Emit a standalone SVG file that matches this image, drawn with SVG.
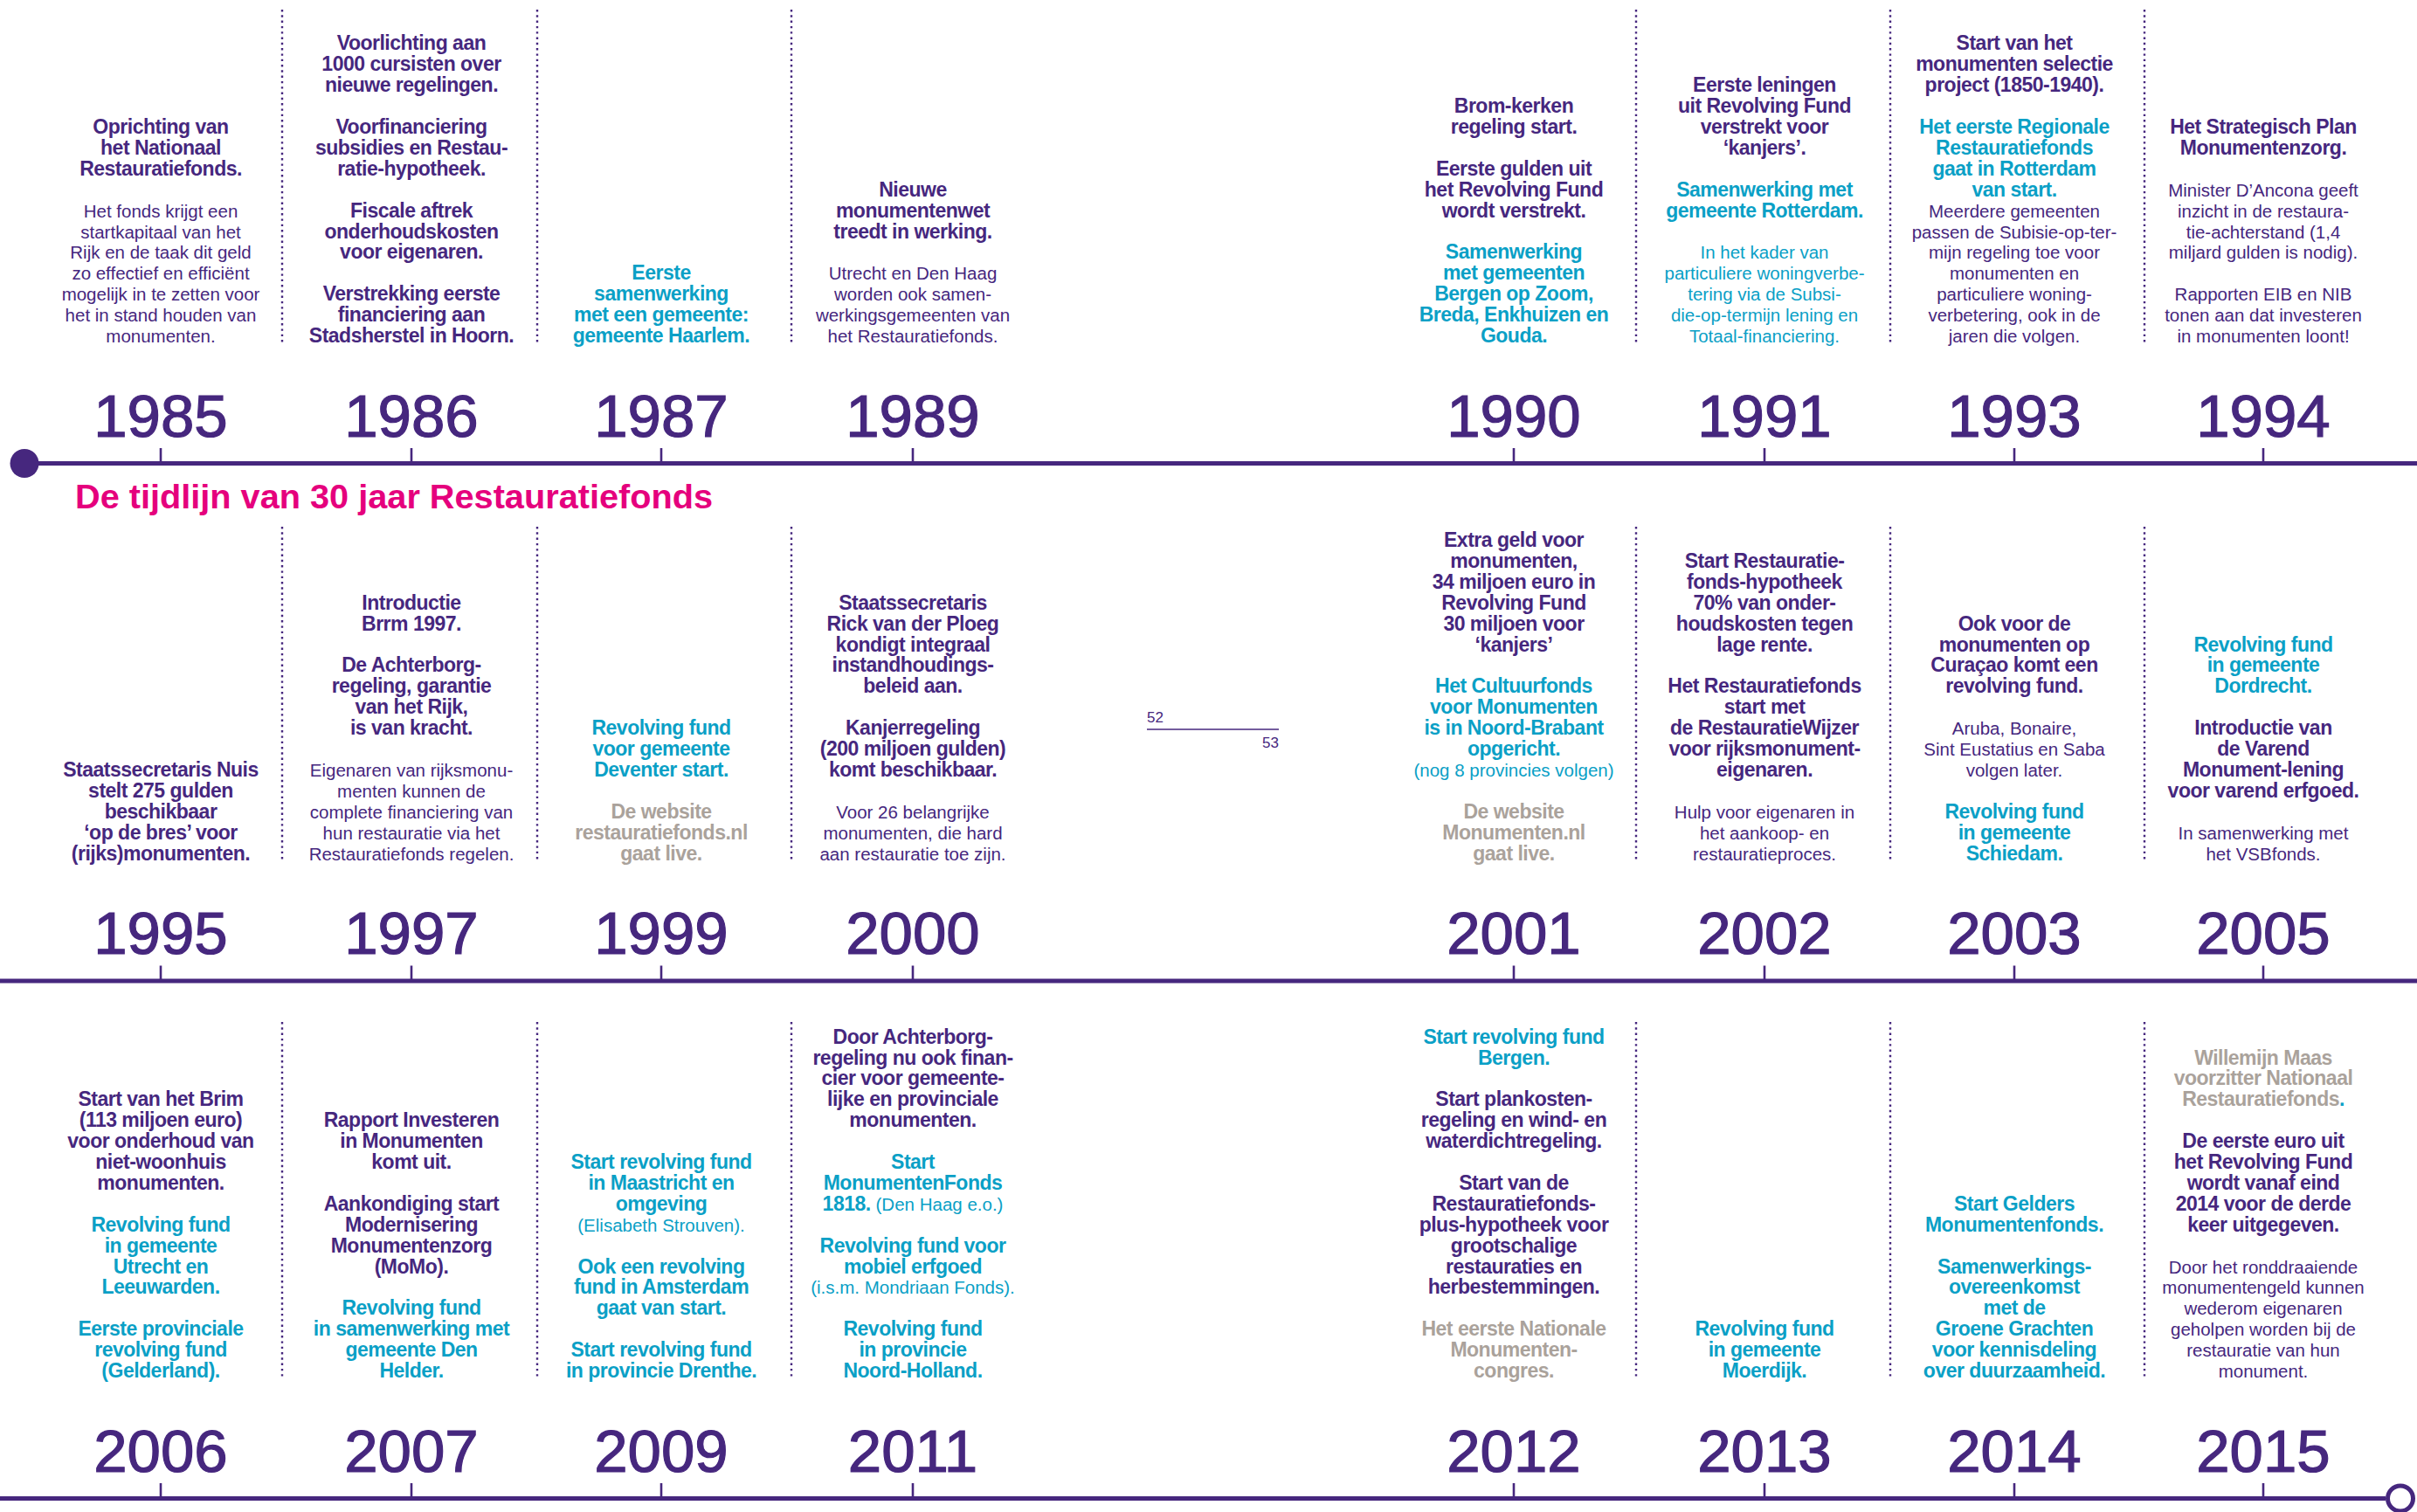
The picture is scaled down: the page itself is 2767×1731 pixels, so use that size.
<svg xmlns="http://www.w3.org/2000/svg" width="2767" height="1731" viewBox="0 0 2767 1731">
<style>
text{text-anchor:middle;font-family:"Liberation Sans",Arial,sans-serif}
.b{font-weight:bold;font-size:23px;letter-spacing:-0.5px;fill:#46277e}
.r{font-size:20.5px;fill:#46277e}
.c{font-weight:bold;font-size:23px;letter-spacing:-0.5px;fill:#0aa0c6}
.cr{font-weight:normal;font-size:20.5px;letter-spacing:0;fill:#0aa0c6}
.g{font-weight:bold;font-size:23px;letter-spacing:-0.5px;fill:#aaa29b}
.yr{font-size:69px;fill:#46277e;stroke:#46277e;stroke-width:1.2}
.tick{stroke:#46277e;stroke-width:2.6}
.sep{stroke:#46277e;stroke-width:2.4;stroke-dasharray:2.4 3.9}
.tl{stroke:#46277e;stroke-width:5;fill:none}
.pg{font-size:17px;fill:#46277e}
</style>
<rect width="2767" height="1731" fill="#ffffff"/>

<g id="connectors">
<line class="tl" x1="28" y1="530.5" x2="2767" y2="530.5"/>
<circle cx="28" cy="530.5" r="16.5" fill="#46277e"/>
<line class="tl" x1="0" y1="1123" x2="2767" y2="1123"/>
<line class="tl" x1="0" y1="1715.5" x2="2731" y2="1715.5"/>
<circle cx="2748" cy="1715.5" r="14.5" fill="#ffffff" stroke="#46277e" stroke-width="5"/>
</g>

<g id="separators">
<line class="sep" x1="323" y1="11" x2="323" y2="392"/>
<line class="sep" x1="615" y1="11" x2="615" y2="392"/>
<line class="sep" x1="906" y1="11" x2="906" y2="392"/>
<line class="sep" x1="1873" y1="11" x2="1873" y2="392"/>
<line class="sep" x1="2164" y1="11" x2="2164" y2="392"/>
<line class="sep" x1="2455" y1="11" x2="2455" y2="392"/>
<line class="sep" x1="323" y1="603" x2="323" y2="985"/>
<line class="sep" x1="615" y1="603" x2="615" y2="985"/>
<line class="sep" x1="906" y1="603" x2="906" y2="985"/>
<line class="sep" x1="1873" y1="603" x2="1873" y2="985"/>
<line class="sep" x1="2164" y1="603" x2="2164" y2="985"/>
<line class="sep" x1="2455" y1="603" x2="2455" y2="985"/>
<line class="sep" x1="323" y1="1170" x2="323" y2="1577"/>
<line class="sep" x1="615" y1="1170" x2="615" y2="1577"/>
<line class="sep" x1="906" y1="1170" x2="906" y2="1577"/>
<line class="sep" x1="1873" y1="1170" x2="1873" y2="1577"/>
<line class="sep" x1="2164" y1="1170" x2="2164" y2="1577"/>
<line class="sep" x1="2455" y1="1170" x2="2455" y2="1577"/>
</g>

<g id="title">
<text x="86" y="582" style="text-anchor:start;font-weight:bold;font-size:39.7px;fill:#e5007d">De tijdlijn van 30 jaar Restauratiefonds</text>
</g>

<g id="pagenumbers">
<text class="pg" x="1313" y="827" style="text-anchor:start">52</text>
<line x1="1313" y1="835" x2="1464" y2="835" stroke="#46277e" stroke-width="1.3"/>
<text class="pg" x="1464" y="856" style="text-anchor:end">53</text>
</g>

<!-- ROW 1 -->
<g id="n1985" transform="translate(184 0)">
<line class="tick" x1="0" y1="513" x2="0" y2="530"/>
<text class="yr" x="0" y="499.5">1985</text>
<text class="b"><tspan x="0" y="153">Oprichting van</tspan><tspan x="0" y="176.9">het Nationaal</tspan><tspan x="0" y="200.8">Restauratiefonds.</tspan></text>
<text class="r"><tspan x="0" y="248.6">Het fonds krijgt een</tspan><tspan x="0" y="272.5">startkapitaal van het</tspan><tspan x="0" y="296.4">Rijk en de taak dit geld</tspan><tspan x="0" y="320.3">zo effectief en efficiënt</tspan><tspan x="0" y="344.2">mogelijk in te zetten voor</tspan><tspan x="0" y="368.1">het in stand houden van</tspan><tspan x="0" y="392">monumenten.</tspan></text>
</g>

<g id="n1986" transform="translate(471 0)">
<line class="tick" x1="0" y1="513" x2="0" y2="530"/>
<text class="yr" x="0" y="499.5">1986</text>
<text class="b"><tspan x="0" y="57.4">Voorlichting aan</tspan><tspan x="0" y="81.3">1000 cursisten over</tspan><tspan x="0" y="105.2">nieuwe regelingen.</tspan><tspan x="0" y="153">Voorfinanciering</tspan><tspan x="0" y="176.9">subsidies en Restau-</tspan><tspan x="0" y="200.8">ratie-hypotheek.</tspan><tspan x="0" y="248.6">Fiscale aftrek</tspan><tspan x="0" y="272.5">onderhoudskosten</tspan><tspan x="0" y="296.4">voor eigenaren.</tspan><tspan x="0" y="344.2">Verstrekking eerste</tspan><tspan x="0" y="368.1">financiering aan</tspan><tspan x="0" y="392">Stadsherstel in Hoorn.</tspan></text>
</g>

<g id="n1987" transform="translate(757 0)">
<line class="tick" x1="0" y1="513" x2="0" y2="530"/>
<text class="yr" x="0" y="499.5">1987</text>
<text class="c"><tspan x="0" y="320.3">Eerste</tspan><tspan x="0" y="344.2">samenwerking</tspan><tspan x="0" y="368.1">met een gemeente:</tspan><tspan x="0" y="392">gemeente Haarlem.</tspan></text>
</g>

<g id="n1989" transform="translate(1045 0)">
<line class="tick" x1="0" y1="513" x2="0" y2="530"/>
<text class="yr" x="0" y="499.5">1989</text>
<text class="b"><tspan x="0" y="224.7">Nieuwe</tspan><tspan x="0" y="248.6">monumentenwet</tspan><tspan x="0" y="272.5">treedt in werking.</tspan></text>
<text class="r"><tspan x="0" y="320.3">Utrecht en Den Haag</tspan><tspan x="0" y="344.2">worden ook samen-</tspan><tspan x="0" y="368.1">werkingsgemeenten van</tspan><tspan x="0" y="392">het Restauratiefonds.</tspan></text>
</g>

<g id="n1990" transform="translate(1733 0)">
<line class="tick" x1="0" y1="513" x2="0" y2="530"/>
<text class="yr" x="0" y="499.5">1990</text>
<text class="b"><tspan x="0" y="129.1">Brom-kerken</tspan><tspan x="0" y="153">regeling start.</tspan><tspan x="0" y="200.8">Eerste gulden uit</tspan><tspan x="0" y="224.7">het Revolving Fund</tspan><tspan x="0" y="248.6">wordt verstrekt.</tspan></text>
<text class="c"><tspan x="0" y="296.4">Samenwerking</tspan><tspan x="0" y="320.3">met gemeenten</tspan><tspan x="0" y="344.2">Bergen op Zoom,</tspan><tspan x="0" y="368.1">Breda, Enkhuizen en</tspan><tspan x="0" y="392">Gouda.</tspan></text>
</g>

<g id="n1991" transform="translate(2020 0)">
<line class="tick" x1="0" y1="513" x2="0" y2="530"/>
<text class="yr" x="0" y="499.5">1991</text>
<text class="b"><tspan x="0" y="105.2">Eerste leningen</tspan><tspan x="0" y="129.1">uit Revolving Fund</tspan><tspan x="0" y="153">verstrekt voor</tspan><tspan x="0" y="176.9">‘kanjers’.</tspan></text>
<text class="c"><tspan x="0" y="224.7">Samenwerking met</tspan><tspan x="0" y="248.6">gemeente Rotterdam.</tspan></text>
<text class="cr"><tspan x="0" y="296.4">In het kader van</tspan><tspan x="0" y="320.3">particuliere woningverbe-</tspan><tspan x="0" y="344.2">tering via de Subsi-</tspan><tspan x="0" y="368.1">die-op-termijn lening en</tspan><tspan x="0" y="392">Totaal-financiering.</tspan></text>
</g>

<g id="n1993" transform="translate(2306 0)">
<line class="tick" x1="0" y1="513" x2="0" y2="530"/>
<text class="yr" x="0" y="499.5">1993</text>
<text class="b"><tspan x="0" y="57.4">Start van het</tspan><tspan x="0" y="81.3">monumenten selectie</tspan><tspan x="0" y="105.2">project (1850-1940).</tspan></text>
<text class="c"><tspan x="0" y="153">Het eerste Regionale</tspan><tspan x="0" y="176.9">Restauratiefonds</tspan><tspan x="0" y="200.8">gaat in Rotterdam</tspan><tspan x="0" y="224.7">van start.</tspan></text>
<text class="r"><tspan x="0" y="248.6">Meerdere gemeenten</tspan><tspan x="0" y="272.5">passen de Subisie-op-ter-</tspan><tspan x="0" y="296.4">mijn regeling toe voor</tspan><tspan x="0" y="320.3">monumenten en</tspan><tspan x="0" y="344.2">particuliere woning-</tspan><tspan x="0" y="368.1">verbetering, ook in de</tspan><tspan x="0" y="392">jaren die volgen.</tspan></text>
</g>

<g id="n1994" transform="translate(2591 0)">
<line class="tick" x1="0" y1="513" x2="0" y2="530"/>
<text class="yr" x="0" y="499.5">1994</text>
<text class="b"><tspan x="0" y="153">Het Strategisch Plan</tspan><tspan x="0" y="176.9">Monumentenzorg.</tspan></text>
<text class="r"><tspan x="0" y="224.7">Minister D’Ancona geeft</tspan><tspan x="0" y="248.6">inzicht in de restaura-</tspan><tspan x="0" y="272.5">tie-achterstand (1,4</tspan><tspan x="0" y="296.4">miljard gulden is nodig).</tspan><tspan x="0" y="344.2">Rapporten EIB en NIB</tspan><tspan x="0" y="368.1">tonen aan dat investeren</tspan><tspan x="0" y="392">in monumenten loont!</tspan></text>
</g>

<!-- ROW 2 -->
<g id="n1995" transform="translate(184 0)">
<line class="tick" x1="0" y1="1105.5" x2="0" y2="1122.5"/>
<text class="yr" x="0" y="1092">1995</text>
<text class="b"><tspan x="0" y="888.9">Staatssecretaris Nuis</tspan><tspan x="0" y="912.8">stelt 275 gulden</tspan><tspan x="0" y="936.7">beschikbaar</tspan><tspan x="0" y="960.6">‘op de bres’ voor</tspan><tspan x="0" y="984.5">(rijks)monumenten.</tspan></text>
</g>

<g id="n1997" transform="translate(471 0)">
<line class="tick" x1="0" y1="1105.5" x2="0" y2="1122.5"/>
<text class="yr" x="0" y="1092">1997</text>
<text class="b"><tspan x="0" y="697.7">Introductie</tspan><tspan x="0" y="721.6">Brrm 1997.</tspan><tspan x="0" y="769.4">De Achterborg-</tspan><tspan x="0" y="793.3">regeling, garantie</tspan><tspan x="0" y="817.2">van het Rijk,</tspan><tspan x="0" y="841.1">is van kracht.</tspan></text>
<text class="r"><tspan x="0" y="888.9">Eigenaren van rijksmonu-</tspan><tspan x="0" y="912.8">menten kunnen de</tspan><tspan x="0" y="936.7">complete financiering van</tspan><tspan x="0" y="960.6">hun restauratie via het</tspan><tspan x="0" y="984.5">Restauratiefonds regelen.</tspan></text>
</g>

<g id="n1999" transform="translate(757 0)">
<line class="tick" x1="0" y1="1105.5" x2="0" y2="1122.5"/>
<text class="yr" x="0" y="1092">1999</text>
<text class="c"><tspan x="0" y="841.1">Revolving fund</tspan><tspan x="0" y="865">voor gemeente</tspan><tspan x="0" y="888.9">Deventer start.</tspan></text>
<text class="g"><tspan x="0" y="936.7">De website</tspan><tspan x="0" y="960.6">restauratiefonds.nl</tspan><tspan x="0" y="984.5">gaat live.</tspan></text>
</g>

<g id="n2000" transform="translate(1045 0)">
<line class="tick" x1="0" y1="1105.5" x2="0" y2="1122.5"/>
<text class="yr" x="0" y="1092">2000</text>
<text class="b"><tspan x="0" y="697.7">Staatssecretaris</tspan><tspan x="0" y="721.6">Rick van der Ploeg</tspan><tspan x="0" y="745.5">kondigt integraal</tspan><tspan x="0" y="769.4">instandhoudings-</tspan><tspan x="0" y="793.3">beleid aan.</tspan><tspan x="0" y="841.1">Kanjerregeling</tspan><tspan x="0" y="865">(200 miljoen gulden)</tspan><tspan x="0" y="888.9">komt beschikbaar.</tspan></text>
<text class="r"><tspan x="0" y="936.7">Voor 26 belangrijke</tspan><tspan x="0" y="960.6">monumenten, die hard</tspan><tspan x="0" y="984.5">aan restauratie toe zijn.</tspan></text>
</g>

<g id="n2001" transform="translate(1733 0)">
<line class="tick" x1="0" y1="1105.5" x2="0" y2="1122.5"/>
<text class="yr" x="0" y="1092">2001</text>
<text class="b"><tspan x="0" y="626">Extra geld voor</tspan><tspan x="0" y="649.9">monumenten,</tspan><tspan x="0" y="673.8">34 miljoen euro in</tspan><tspan x="0" y="697.7">Revolving Fund</tspan><tspan x="0" y="721.6">30 miljoen voor</tspan><tspan x="0" y="745.5">‘kanjers’</tspan></text>
<text class="c"><tspan x="0" y="793.3">Het Cultuurfonds</tspan><tspan x="0" y="817.2">voor Monumenten</tspan><tspan x="0" y="841.1">is in Noord-Brabant</tspan><tspan x="0" y="865">opgericht.</tspan></text>
<text class="cr"><tspan x="0" y="888.9">(nog 8 provincies volgen)</tspan></text>
<text class="g"><tspan x="0" y="936.7">De website</tspan><tspan x="0" y="960.6">Monumenten.nl</tspan><tspan x="0" y="984.5">gaat live.</tspan></text>
</g>

<g id="n2002" transform="translate(2020 0)">
<line class="tick" x1="0" y1="1105.5" x2="0" y2="1122.5"/>
<text class="yr" x="0" y="1092">2002</text>
<text class="b"><tspan x="0" y="649.9">Start Restauratie-</tspan><tspan x="0" y="673.8">fonds-hypotheek</tspan><tspan x="0" y="697.7">70% van onder-</tspan><tspan x="0" y="721.6">houdskosten tegen</tspan><tspan x="0" y="745.5">lage rente.</tspan><tspan x="0" y="793.3">Het Restauratiefonds</tspan><tspan x="0" y="817.2">start met</tspan><tspan x="0" y="841.1">de RestauratieWijzer</tspan><tspan x="0" y="865">voor rijksmonument-</tspan><tspan x="0" y="888.9">eigenaren.</tspan></text>
<text class="r"><tspan x="0" y="936.7">Hulp voor eigenaren in</tspan><tspan x="0" y="960.6">het aankoop- en</tspan><tspan x="0" y="984.5">restauratieproces.</tspan></text>
</g>

<g id="n2003" transform="translate(2306 0)">
<line class="tick" x1="0" y1="1105.5" x2="0" y2="1122.5"/>
<text class="yr" x="0" y="1092">2003</text>
<text class="b"><tspan x="0" y="721.6">Ook voor de</tspan><tspan x="0" y="745.5">monumenten op</tspan><tspan x="0" y="769.4">Curaçao komt een</tspan><tspan x="0" y="793.3">revolving fund.</tspan></text>
<text class="r"><tspan x="0" y="841.1">Aruba, Bonaire,</tspan><tspan x="0" y="865">Sint Eustatius en Saba</tspan><tspan x="0" y="888.9">volgen later.</tspan></text>
<text class="c"><tspan x="0" y="936.7">Revolving fund</tspan><tspan x="0" y="960.6">in gemeente</tspan><tspan x="0" y="984.5">Schiedam.</tspan></text>
</g>

<g id="n2005" transform="translate(2591 0)">
<line class="tick" x1="0" y1="1105.5" x2="0" y2="1122.5"/>
<text class="yr" x="0" y="1092">2005</text>
<text class="c"><tspan x="0" y="745.5">Revolving fund</tspan><tspan x="0" y="769.4">in gemeente</tspan><tspan x="0" y="793.3">Dordrecht.</tspan></text>
<text class="b"><tspan x="0" y="841.1">Introductie van</tspan><tspan x="0" y="865">de Varend</tspan><tspan x="0" y="888.9">Monument-lening</tspan><tspan x="0" y="912.8">voor varend erfgoed.</tspan></text>
<text class="r"><tspan x="0" y="960.6">In samenwerking met</tspan><tspan x="0" y="984.5">het VSBfonds.</tspan></text>
</g>

<!-- ROW 3 -->
<g id="n2006" transform="translate(184 0)">
<line class="tick" x1="0" y1="1698" x2="0" y2="1715"/>
<text class="yr" x="0" y="1684.5">2006</text>
<text class="b"><tspan x="0" y="1266.3">Start van het Brim</tspan><tspan x="0" y="1290.2">(113 miljoen euro)</tspan><tspan x="0" y="1314.1">voor onderhoud van</tspan><tspan x="0" y="1338">niet-woonhuis</tspan><tspan x="0" y="1361.9">monumenten.</tspan></text>
<text class="c"><tspan x="0" y="1409.7">Revolving fund</tspan><tspan x="0" y="1433.6">in gemeente</tspan><tspan x="0" y="1457.5">Utrecht en</tspan><tspan x="0" y="1481.4">Leeuwarden.</tspan><tspan x="0" y="1529.2">Eerste provinciale</tspan><tspan x="0" y="1553.1">revolving fund</tspan><tspan x="0" y="1577">(Gelderland).</tspan></text>
</g>

<g id="n2007" transform="translate(471 0)">
<line class="tick" x1="0" y1="1698" x2="0" y2="1715"/>
<text class="yr" x="0" y="1684.5">2007</text>
<text class="b"><tspan x="0" y="1290.2">Rapport Investeren</tspan><tspan x="0" y="1314.1">in Monumenten</tspan><tspan x="0" y="1338">komt uit.</tspan><tspan x="0" y="1385.8">Aankondiging start</tspan><tspan x="0" y="1409.7">Modernisering</tspan><tspan x="0" y="1433.6">Monumentenzorg</tspan><tspan x="0" y="1457.5">(MoMo).</tspan></text>
<text class="c"><tspan x="0" y="1505.3">Revolving fund</tspan><tspan x="0" y="1529.2">in samenwerking met</tspan><tspan x="0" y="1553.1">gemeente Den</tspan><tspan x="0" y="1577">Helder.</tspan></text>
</g>

<g id="n2009" transform="translate(757 0)">
<line class="tick" x1="0" y1="1698" x2="0" y2="1715"/>
<text class="yr" x="0" y="1684.5">2009</text>
<text class="c"><tspan x="0" y="1338">Start revolving fund</tspan><tspan x="0" y="1361.9">in Maastricht en</tspan><tspan x="0" y="1385.8">omgeving</tspan></text>
<text class="cr"><tspan x="0" y="1409.7">(Elisabeth Strouven).</tspan></text>
<text class="c"><tspan x="0" y="1457.5">Ook een revolving</tspan><tspan x="0" y="1481.4">fund in Amsterdam</tspan><tspan x="0" y="1505.3">gaat van start.</tspan><tspan x="0" y="1553.1">Start revolving fund</tspan><tspan x="0" y="1577">in provincie Drenthe.</tspan></text>
</g>

<g id="n2011" transform="translate(1045 0)">
<line class="tick" x1="0" y1="1698" x2="0" y2="1715"/>
<text class="yr" x="0" y="1684.5">2011</text>
<text class="b"><tspan x="0" y="1194.6">Door Achterborg-</tspan><tspan x="0" y="1218.5">regeling nu ook finan-</tspan><tspan x="0" y="1242.4">cier voor gemeente-</tspan><tspan x="0" y="1266.3">lijke en provinciale</tspan><tspan x="0" y="1290.2">monumenten.</tspan></text>
<text class="c"><tspan x="0" y="1338">Start</tspan><tspan x="0" y="1361.9">MonumentenFonds</tspan><tspan x="0" y="1385.8">1818. <tspan class="cr">(Den Haag e.o.)</tspan></tspan><tspan x="0" y="1433.6">Revolving fund voor</tspan><tspan x="0" y="1457.5">mobiel erfgoed</tspan></text>
<text class="cr"><tspan x="0" y="1481.4">(i.s.m. Mondriaan Fonds).</tspan></text>
<text class="c"><tspan x="0" y="1529.2">Revolving fund</tspan><tspan x="0" y="1553.1">in provincie</tspan><tspan x="0" y="1577">Noord-Holland.</tspan></text>
</g>

<g id="n2012" transform="translate(1733 0)">
<line class="tick" x1="0" y1="1698" x2="0" y2="1715"/>
<text class="yr" x="0" y="1684.5">2012</text>
<text class="c"><tspan x="0" y="1194.6">Start revolving fund</tspan><tspan x="0" y="1218.5">Bergen.</tspan></text>
<text class="b"><tspan x="0" y="1266.3">Start plankosten-</tspan><tspan x="0" y="1290.2">regeling en wind- en</tspan><tspan x="0" y="1314.1">waterdichtregeling.</tspan><tspan x="0" y="1361.9">Start van de</tspan><tspan x="0" y="1385.8">Restauratiefonds-</tspan><tspan x="0" y="1409.7">plus-hypotheek voor</tspan><tspan x="0" y="1433.6">grootschalige</tspan><tspan x="0" y="1457.5">restauraties en</tspan><tspan x="0" y="1481.4">herbestemmingen.</tspan></text>
<text class="g"><tspan x="0" y="1529.2">Het eerste Nationale</tspan><tspan x="0" y="1553.1">Monumenten-</tspan><tspan x="0" y="1577">congres.</tspan></text>
</g>

<g id="n2013" transform="translate(2020 0)">
<line class="tick" x1="0" y1="1698" x2="0" y2="1715"/>
<text class="yr" x="0" y="1684.5">2013</text>
<text class="c"><tspan x="0" y="1529.2">Revolving fund</tspan><tspan x="0" y="1553.1">in gemeente</tspan><tspan x="0" y="1577">Moerdijk.</tspan></text>
</g>

<g id="n2014" transform="translate(2306 0)">
<line class="tick" x1="0" y1="1698" x2="0" y2="1715"/>
<text class="yr" x="0" y="1684.5">2014</text>
<text class="c"><tspan x="0" y="1385.8">Start Gelders</tspan><tspan x="0" y="1409.7">Monumentenfonds.</tspan><tspan x="0" y="1457.5">Samenwerkings-</tspan><tspan x="0" y="1481.4">overeenkomst</tspan><tspan x="0" y="1505.3">met de</tspan><tspan x="0" y="1529.2">Groene Grachten</tspan><tspan x="0" y="1553.1">voor kennisdeling</tspan><tspan x="0" y="1577">over duurzaamheid.</tspan></text>
</g>

<g id="n2015" transform="translate(2591 0)">
<line class="tick" x1="0" y1="1698" x2="0" y2="1715"/>
<text class="yr" x="0" y="1684.5">2015</text>
<text class="g"><tspan x="0" y="1218.5">Willemijn Maas</tspan><tspan x="0" y="1242.4">voorzitter Nationaal</tspan><tspan x="0" y="1266.3">Restauratiefonds<tspan style="fill:#0aa0c6">.</tspan></tspan></text>
<text class="b"><tspan x="0" y="1314.1">De eerste euro uit</tspan><tspan x="0" y="1338">het Revolving Fund</tspan><tspan x="0" y="1361.9">wordt vanaf eind</tspan><tspan x="0" y="1385.8">2014 voor de derde</tspan><tspan x="0" y="1409.7">keer uitgegeven.</tspan></text>
<text class="r"><tspan x="0" y="1457.5">Door het ronddraaiende</tspan><tspan x="0" y="1481.4">monumentengeld kunnen</tspan><tspan x="0" y="1505.3">wederom eigenaren</tspan><tspan x="0" y="1529.2">geholpen worden bij de</tspan><tspan x="0" y="1553.1">restauratie van hun</tspan><tspan x="0" y="1577">monument.</tspan></text>
</g>
</svg>
